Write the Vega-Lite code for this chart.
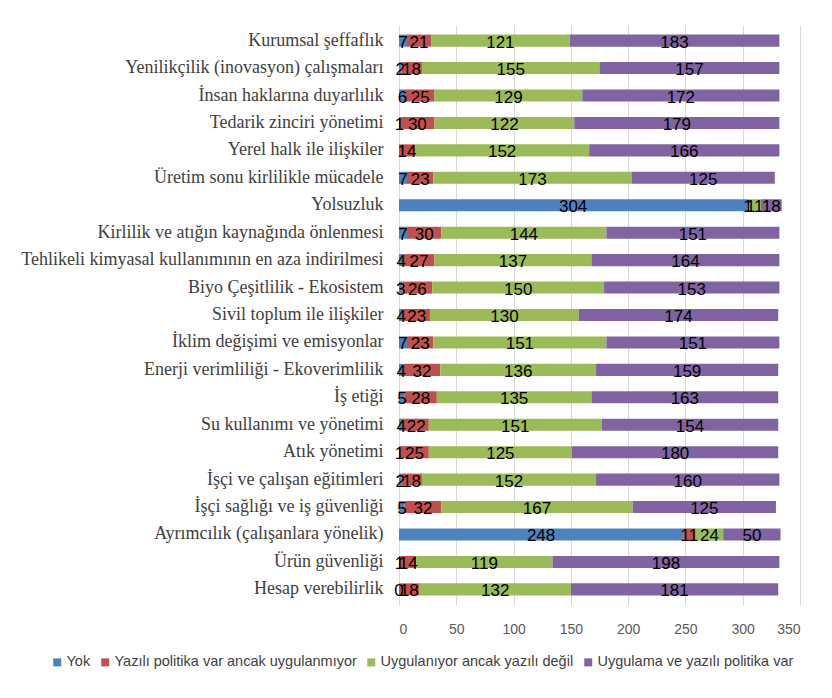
{
  "$schema": "https://vega.github.io/schema/vega-lite/v6.json",
  "width": 401,
  "height": 580,
  "padding": {"top": 25, "left": 20, "right": 20, "bottom": 10},
  "autosize": {"type": "pad"},
  "background": "white",
  "config": {"view": {"stroke": null}},
  "data": {"values": [
    {"k":"Kurumsal şeffaflık","s":"Yok","o":1,"v":7},
    {"k":"Kurumsal şeffaflık","s":"Yazılı politika var ancak uygulanmıyor","o":2,"v":21},
    {"k":"Kurumsal şeffaflık","s":"Uygulanıyor ancak yazılı değil","o":3,"v":121},
    {"k":"Kurumsal şeffaflık","s":"Uygulama ve yazılı politika var","o":4,"v":183},
    {"k":"Yenilikçilik (inovasyon) çalışmaları","s":"Yok","o":1,"v":2},
    {"k":"Yenilikçilik (inovasyon) çalışmaları","s":"Yazılı politika var ancak uygulanmıyor","o":2,"v":18},
    {"k":"Yenilikçilik (inovasyon) çalışmaları","s":"Uygulanıyor ancak yazılı değil","o":3,"v":155},
    {"k":"Yenilikçilik (inovasyon) çalışmaları","s":"Uygulama ve yazılı politika var","o":4,"v":157},
    {"k":"İnsan haklarına duyarlılık","s":"Yok","o":1,"v":6},
    {"k":"İnsan haklarına duyarlılık","s":"Yazılı politika var ancak uygulanmıyor","o":2,"v":25},
    {"k":"İnsan haklarına duyarlılık","s":"Uygulanıyor ancak yazılı değil","o":3,"v":129},
    {"k":"İnsan haklarına duyarlılık","s":"Uygulama ve yazılı politika var","o":4,"v":172},
    {"k":"Tedarik zinciri yönetimi","s":"Yok","o":1,"v":1},
    {"k":"Tedarik zinciri yönetimi","s":"Yazılı politika var ancak uygulanmıyor","o":2,"v":30},
    {"k":"Tedarik zinciri yönetimi","s":"Uygulanıyor ancak yazılı değil","o":3,"v":122},
    {"k":"Tedarik zinciri yönetimi","s":"Uygulama ve yazılı politika var","o":4,"v":179},
    {"k":"Yerel halk ile ilişkiler","s":"Yazılı politika var ancak uygulanmıyor","o":2,"v":14},
    {"k":"Yerel halk ile ilişkiler","s":"Uygulanıyor ancak yazılı değil","o":3,"v":152},
    {"k":"Yerel halk ile ilişkiler","s":"Uygulama ve yazılı politika var","o":4,"v":166},
    {"k":"Üretim sonu kirlilikle mücadele","s":"Yok","o":1,"v":7},
    {"k":"Üretim sonu kirlilikle mücadele","s":"Yazılı politika var ancak uygulanmıyor","o":2,"v":23},
    {"k":"Üretim sonu kirlilikle mücadele","s":"Uygulanıyor ancak yazılı değil","o":3,"v":173},
    {"k":"Üretim sonu kirlilikle mücadele","s":"Uygulama ve yazılı politika var","o":4,"v":125},
    {"k":"Yolsuzluk","s":"Yok","o":1,"v":304},
    {"k":"Yolsuzluk","s":"Yazılı politika var ancak uygulanmıyor","o":2,"v":1},
    {"k":"Yolsuzluk","s":"Uygulanıyor ancak yazılı değil","o":3,"v":11},
    {"k":"Yolsuzluk","s":"Uygulama ve yazılı politika var","o":4,"v":18},
    {"k":"Kirlilik ve atığın kaynağında önlenmesi","s":"Yok","o":1,"v":7},
    {"k":"Kirlilik ve atığın kaynağında önlenmesi","s":"Yazılı politika var ancak uygulanmıyor","o":2,"v":30},
    {"k":"Kirlilik ve atığın kaynağında önlenmesi","s":"Uygulanıyor ancak yazılı değil","o":3,"v":144},
    {"k":"Kirlilik ve atığın kaynağında önlenmesi","s":"Uygulama ve yazılı politika var","o":4,"v":151},
    {"k":"Tehlikeli kimyasal kullanımının en aza indirilmesi","s":"Yok","o":1,"v":4},
    {"k":"Tehlikeli kimyasal kullanımının en aza indirilmesi","s":"Yazılı politika var ancak uygulanmıyor","o":2,"v":27},
    {"k":"Tehlikeli kimyasal kullanımının en aza indirilmesi","s":"Uygulanıyor ancak yazılı değil","o":3,"v":137},
    {"k":"Tehlikeli kimyasal kullanımının en aza indirilmesi","s":"Uygulama ve yazılı politika var","o":4,"v":164},
    {"k":"Biyo Çeşitlilik - Ekosistem","s":"Yok","o":1,"v":3},
    {"k":"Biyo Çeşitlilik - Ekosistem","s":"Yazılı politika var ancak uygulanmıyor","o":2,"v":26},
    {"k":"Biyo Çeşitlilik - Ekosistem","s":"Uygulanıyor ancak yazılı değil","o":3,"v":150},
    {"k":"Biyo Çeşitlilik - Ekosistem","s":"Uygulama ve yazılı politika var","o":4,"v":153},
    {"k":"Sivil toplum ile ilişkiler","s":"Yok","o":1,"v":4},
    {"k":"Sivil toplum ile ilişkiler","s":"Yazılı politika var ancak uygulanmıyor","o":2,"v":23},
    {"k":"Sivil toplum ile ilişkiler","s":"Uygulanıyor ancak yazılı değil","o":3,"v":130},
    {"k":"Sivil toplum ile ilişkiler","s":"Uygulama ve yazılı politika var","o":4,"v":174},
    {"k":"İklim değişimi ve emisyonlar","s":"Yok","o":1,"v":7},
    {"k":"İklim değişimi ve emisyonlar","s":"Yazılı politika var ancak uygulanmıyor","o":2,"v":23},
    {"k":"İklim değişimi ve emisyonlar","s":"Uygulanıyor ancak yazılı değil","o":3,"v":151},
    {"k":"İklim değişimi ve emisyonlar","s":"Uygulama ve yazılı politika var","o":4,"v":151},
    {"k":"Enerji verimliliği - Ekoverimlilik","s":"Yok","o":1,"v":4},
    {"k":"Enerji verimliliği - Ekoverimlilik","s":"Yazılı politika var ancak uygulanmıyor","o":2,"v":32},
    {"k":"Enerji verimliliği - Ekoverimlilik","s":"Uygulanıyor ancak yazılı değil","o":3,"v":136},
    {"k":"Enerji verimliliği - Ekoverimlilik","s":"Uygulama ve yazılı politika var","o":4,"v":159},
    {"k":"İş etiği","s":"Yok","o":1,"v":5},
    {"k":"İş etiği","s":"Yazılı politika var ancak uygulanmıyor","o":2,"v":28},
    {"k":"İş etiği","s":"Uygulanıyor ancak yazılı değil","o":3,"v":135},
    {"k":"İş etiği","s":"Uygulama ve yazılı politika var","o":4,"v":163},
    {"k":"Su kullanımı ve yönetimi","s":"Yok","o":1,"v":4},
    {"k":"Su kullanımı ve yönetimi","s":"Yazılı politika var ancak uygulanmıyor","o":2,"v":22},
    {"k":"Su kullanımı ve yönetimi","s":"Uygulanıyor ancak yazılı değil","o":3,"v":151},
    {"k":"Su kullanımı ve yönetimi","s":"Uygulama ve yazılı politika var","o":4,"v":154},
    {"k":"Atık yönetimi","s":"Yok","o":1,"v":1},
    {"k":"Atık yönetimi","s":"Yazılı politika var ancak uygulanmıyor","o":2,"v":25},
    {"k":"Atık yönetimi","s":"Uygulanıyor ancak yazılı değil","o":3,"v":125},
    {"k":"Atık yönetimi","s":"Uygulama ve yazılı politika var","o":4,"v":180},
    {"k":"İşçi ve çalışan eğitimleri","s":"Yok","o":1,"v":2},
    {"k":"İşçi ve çalışan eğitimleri","s":"Yazılı politika var ancak uygulanmıyor","o":2,"v":18},
    {"k":"İşçi ve çalışan eğitimleri","s":"Uygulanıyor ancak yazılı değil","o":3,"v":152},
    {"k":"İşçi ve çalışan eğitimleri","s":"Uygulama ve yazılı politika var","o":4,"v":160},
    {"k":"İşçi sağlığı ve iş güvenliği","s":"Yok","o":1,"v":5},
    {"k":"İşçi sağlığı ve iş güvenliği","s":"Yazılı politika var ancak uygulanmıyor","o":2,"v":32},
    {"k":"İşçi sağlığı ve iş güvenliği","s":"Uygulanıyor ancak yazılı değil","o":3,"v":167},
    {"k":"İşçi sağlığı ve iş güvenliği","s":"Uygulama ve yazılı politika var","o":4,"v":125},
    {"k":"Ayrımcılık (çalışanlara yönelik)","s":"Yok","o":1,"v":248},
    {"k":"Ayrımcılık (çalışanlara yönelik)","s":"Yazılı politika var ancak uygulanmıyor","o":2,"v":11},
    {"k":"Ayrımcılık (çalışanlara yönelik)","s":"Uygulanıyor ancak yazılı değil","o":3,"v":24},
    {"k":"Ayrımcılık (çalışanlara yönelik)","s":"Uygulama ve yazılı politika var","o":4,"v":50},
    {"k":"Ürün güvenliği","s":"Yok","o":1,"v":1},
    {"k":"Ürün güvenliği","s":"Yazılı politika var ancak uygulanmıyor","o":2,"v":14},
    {"k":"Ürün güvenliği","s":"Uygulanıyor ancak yazılı değil","o":3,"v":119},
    {"k":"Ürün güvenliği","s":"Uygulama ve yazılı politika var","o":4,"v":198},
    {"k":"Hesap verebilirlik","s":"Yok","o":1,"v":0},
    {"k":"Hesap verebilirlik","s":"Yazılı politika var ancak uygulanmıyor","o":2,"v":18},
    {"k":"Hesap verebilirlik","s":"Uygulanıyor ancak yazılı değil","o":3,"v":132},
    {"k":"Hesap verebilirlik","s":"Uygulama ve yazılı politika var","o":4,"v":181}
  ]},
  "transform": [
    {"stack": "v", "groupby": ["k"], "sort": [{"field": "o"}], "as": ["x0", "x1"]},
    {"calculate": "(datum.x0 + datum.x1) / 2", "as": "mid"}
  ],
  "encoding": {
    "y": {
      "field": "k", "type": "nominal", "sort": null, "title": null,
      "scale": {"paddingInner": 0.56, "paddingOuter": 0.35},
      "axis": {"labelFont": "Liberation Serif", "labelFontSize": 18, "labelColor": "#404040", "labelLimit": 450, "ticks": false, "domain": false, "labelPadding": 16}
    }
  },
  "layer": [
    {
      "mark": {"type": "bar"},
      "encoding": {
        "x": {"field": "x0", "type": "quantitative", "title": null,
          "scale": {"domain": [0, 350], "nice": false},
          "axis": {"values": [0,50,100,150,200,250,300,350], "labelFont": "Liberation Sans", "labelFontSize": 14, "labelColor": "#595959", "gridColor": "#D9D9D9", "domain": false, "ticks": false, "labelPadding": 17}},
        "x2": {"field": "x1"},
        "color": {"field": "s", "type": "nominal", "title": null,
          "scale": {"domain": ["Yok", "Yazılı politika var ancak uygulanmıyor", "Uygulanıyor ancak yazılı değil", "Uygulama ve yazılı politika var"],
                    "range": ["#4F81BD", "#C0504D", "#9BBB59", "#8064A2"]},
          "legend": {"orient": "none", "legendX": -349, "legendY": 630, "direction": "horizontal", "symbolType": "square", "symbolSize": 64, "symbolStrokeWidth": 0, "labelFont": "Liberation Sans", "labelFontSize": 14.5, "labelColor": "#404040", "labelLimit": 0, "columnPadding": 7, "symbolOffset": 0, "labelOffset": 2}}
      }
    },
    {
      "mark": {"type": "text", "font": "Liberation Sans", "fontSize": 17, "color": "#000000", "baseline": "middle", "dy": 2},
      "encoding": {
        "x": {"field": "mid", "type": "quantitative"},
        "text": {"field": "v", "type": "quantitative"}
      }
    }
  ]
}
